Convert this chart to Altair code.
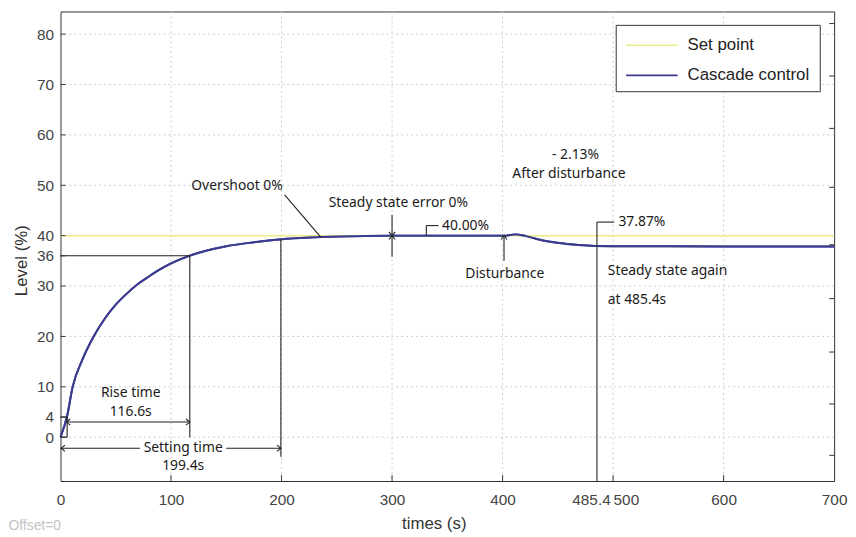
import altair as alt
import pandas as pd

# ---------------- data ----------------
set_t = [0, 700]
set_level = [40, 40]

cascade_t = [0, 6, 11, 20, 30, 40, 50, 60, 70, 80, 90, 100, 116.5, 130, 150, 175,
             200, 225, 250, 275, 300, 350, 403, 411, 420, 430, 446, 464, 480, 500,
             550, 600, 700]
cascade_level = [0, 4.2, 10, 15.5, 20, 23.5, 26.3, 28.5, 30.4, 31.9, 33.3, 34.5, 36,
                 36.9, 37.9, 38.7, 39.3, 39.65, 39.85, 39.95, 40.0, 40.0, 40.0, 40.25,
                 40.0, 39.4, 38.7, 38.25, 38.0, 37.92, 37.88, 37.87, 37.87]

x_ticks = [0, 100, 200, 300, 400, 485.4, 500, 600, 700]
y_ticks = [0, 4, 10, 20, 30, 36, 40, 50, 60, 70, 80]
grid_x = [100, 200, 300, 400, 500, 600]
grid_y = [0, 10, 20, 30, 40, 50, 60, 70, 80]
bottom_ticks = [100, 200, 300, 400, 500, 600]
right_ticks = [-3.6, 6.6, 16.9, 27.5, 38.2, 49.6, 61.3, 71.7, 82.1]

# annotation line segments (t1, level1) -> (t2, level2)
seg_t1 = [0, 117, 0, 6, 0, 5.4, 0, 150, 199.4, 202.8, 300, 331, 331, 401.3, 485.4, 485.4]
seg_l1 = [36, 36, 4, 4, 0, 3.0, -2.2, -2.2, 39.3, 48.1, 44.1, 40, 42.0, 40, -8.7, 42.7]
seg_t2 = [117, 117, 6, 6, 6, 117, 72, 199.4, 199.4, 235.5, 300, 331, 342, 401.3, 485.4, 501]
seg_l2 = [36, 0, 4, 0, 0, 3.0, -2.2, -2.2, -3.9, 39.7, 35.8, 42.0, 42.0, 35.0, 42.7, 42.7]

# arrow heads (tip position and direction)
arrow_t = [5.4, 117, 0.6, 199.4, 300, 300, 401.3]
arrow_l = [3.0, 3.0, -2.2, -2.2, 40, 40, 40]
arrow_dir = ["left", "right", "left", "right", "down", "up", "up"]

# text annotations
note_text = ["Overshoot 0%", "Steady state error 0%", "40.00%", "Disturbance",
             "- 2.13%", "After disturbance", "37.87%", "Steady state again",
             "at 485.4s", "Rise time", "116.6s", "Setting time", "199.4s"]
note_t = [159.7, 305.7, 345.3, 402, 466, 460, 504.8, 495.2, 495.2, 63.5, 63.5, 111, 111]
note_l = [49.9, 46.4, 42.0, 32.4, 56.0, 52.3, 42.7, 33.0, 27.2, 8.7, 5.0, -2.2, -5.8]
note_align = ["center", "center", "left", "center", "center", "center", "left",
              "left", "left", "center", "center", "center", "center"]

legend_names = ["Set point", "Cascade control"]

# ---------------- chart ----------------
W, H = 781, 474
XS = alt.Scale(domain=[0, 700], nice=False, zero=False)
YS = alt.Scale(domain=[-8.7, 84.5], nice=False, zero=False)

AX_FONT = "Liberation Sans"
NOTE_FONT = "Noto Sans"

shape_paths = {
    "left": "M1,-0.8L0,0L1,0.8",
    "right": "M-1,-0.8L0,0L-1,0.8",
    "up": "M-0.8,1L0,0L0.8,1",
    "down": "M-0.8,-1L0,0L0.8,-1",
}

set_df = pd.DataFrame({"t": set_t, "level": set_level})
cas_df = pd.DataFrame({"t": cascade_t, "level": cascade_level})
seg_df = pd.DataFrame({"t1": seg_t1, "l1": seg_l1, "t2": seg_t2, "l2": seg_l2})
arr_df = pd.DataFrame({"t": arrow_t, "level": arrow_l,
                       "shape": [shape_paths[d] for d in arrow_dir]})
note_df = pd.DataFrame({"t": note_t, "level": note_l, "text": note_text, "align": note_align})
one = pd.DataFrame({"a": [0]})

x_axis = alt.Axis(
    values=x_ticks, title="times (s)", grid=False, ticks=False, tickSize=0, domain=False,
    labelFont=AX_FONT, labelFontSize=15.5, labelColor="#444", labelPadding=12,
    labelFlush=False, labelOverlap=False,
    labelExpr="datum.value == 485.4 ? '485.4' : format(datum.value, 'd')",
    labelAlign={"condition": {"test": "datum.value == 500", "value": "left"}, "value": "center"},
    labelOffset={"condition": {"test": "datum.value == 485.4", "value": -6}, "value": 0},
    titleFont=AX_FONT, titleFontSize=17, titleFontWeight="normal", titleColor="#333",
    titleX=376.8, titleY=35, titleBaseline="top", titleAlign="center",
)
y_axis = alt.Axis(
    values=y_ticks, title="Level (%)", grid=False, ticks=False, tickSize=0, domain=False,
    labelFont=AX_FONT, labelFontSize=15.5, labelColor="#444", labelPadding=7,
    labelFlush=False, labelOverlap=False,
    titleFont=AX_FONT, titleFontSize=17, titleFontWeight="normal", titleColor="#333",
    titleX=-30, titleY=251, titleAngle=270, titleBaseline="bottom", titleAlign="center",
)


def X(field):
    return alt.X(field, scale=XS, axis=x_axis)


def Y(field):
    return alt.Y(field, scale=YS, axis=y_axis)


grid_v = alt.Chart(pd.DataFrame({"t": grid_x})).mark_rule(
    stroke="#cccccc", strokeDash=[2, 3], strokeWidth=1
).encode(x=X("t:Q"))
grid_h = alt.Chart(pd.DataFrame({"level": grid_y})).mark_rule(
    stroke="#cccccc", strokeDash=[2, 3], strokeWidth=1
).encode(y=Y("level:Q"))

setpoint = alt.Chart(set_df).mark_line(color="#ecec84", strokeWidth=1.5).encode(
    x=X("t:Q"), y=Y("level:Q"))

cascade = alt.Chart(cas_df).mark_line(color="#3b3b8f", strokeWidth=2,
                                      interpolate="monotone").encode(
    x=X("t:Q"), y=Y("level:Q"))

segs = alt.Chart(seg_df).mark_rule(color="#222", strokeWidth=1.1).encode(
    x=X("t1:Q"), x2="t2:Q", y=Y("l1:Q"), y2="l2:Q")

arrows = alt.Chart(arr_df).mark_point(filled=False, color="#222", strokeWidth=1.1, size=60,
                                      opacity=1).encode(
    x=X("t:Q"), y=Y("level:Q"), shape=alt.Shape("shape:N", scale=None))


def notes(align):
    return alt.Chart(note_df[note_df["align"] == align]).mark_text(
        font=NOTE_FONT, fontSize=14, color="#1a1a1a", align=align, baseline="middle"
    ).encode(x=X("t:Q"), y=Y("level:Q"), text="text:N")


ticks_left = alt.Chart(pd.DataFrame({"level": y_ticks})).mark_rule(color="#333").encode(
    y=Y("level:Q"), x=alt.value(0), x2=alt.value(5))
ticks_right = alt.Chart(pd.DataFrame({"level": right_ticks})).mark_rule(color="#333").encode(
    y=Y("level:Q"), x=alt.value(W - 5), x2=alt.value(W))
ticks_bottom = alt.Chart(pd.DataFrame({"t": bottom_ticks})).mark_rule(color="#333").encode(
    x=X("t:Q"), y=alt.value(H - 6), y2=alt.value(H))

# legend (drawn as a box in the top-right corner)
leg_box = alt.Chart(one).mark_rect(fill="white", stroke="#333", strokeWidth=1).encode(
    x=alt.value(561), x2=alt.value(767), y=alt.value(14), y2=alt.value(81))
leg_line1 = alt.Chart(one).mark_rule(color="#ecec84", strokeWidth=1.5).encode(
    x=alt.value(571), x2=alt.value(623), y=alt.value(34))
leg_line2 = alt.Chart(one).mark_rule(color="#3b3b8f", strokeWidth=2).encode(
    x=alt.value(571), x2=alt.value(623), y=alt.value(64.5))
leg_txt1 = alt.Chart(one).mark_text(text=legend_names[0], font=AX_FONT, fontSize=17,
                                    color="#222", align="left", baseline="middle").encode(
    x=alt.value(633), y=alt.value(34))
leg_txt2 = alt.Chart(one).mark_text(text=legend_names[1], font=AX_FONT, fontSize=17,
                                    color="#222", align="left", baseline="middle").encode(
    x=alt.value(633), y=alt.value(64.5))

offset_txt = alt.Chart(one).mark_text(text="Offset=0", font=AX_FONT, fontSize=14,
                                      color="#c4c4c4", align="center", baseline="middle").encode(
    x=alt.value(-26), y=alt.value(519))

chart = alt.layer(
    cascade, grid_v, grid_h, setpoint, cascade, segs, arrows, notes("center"), notes("left"),
    ticks_left, ticks_right, ticks_bottom,
    leg_box, leg_line1, leg_line2, leg_txt1, leg_txt2, offset_txt,
).properties(
    width=W, height=H,
    padding={"left": 53, "top": 1, "right": 14, "bottom": 54},
    autosize=alt.AutoSizeParams(type="none"),
    background="white",
).configure_view(stroke="#333", strokeWidth=1)

chart.save("out.html", embed_options={"renderer": "svg", "actions": False})
